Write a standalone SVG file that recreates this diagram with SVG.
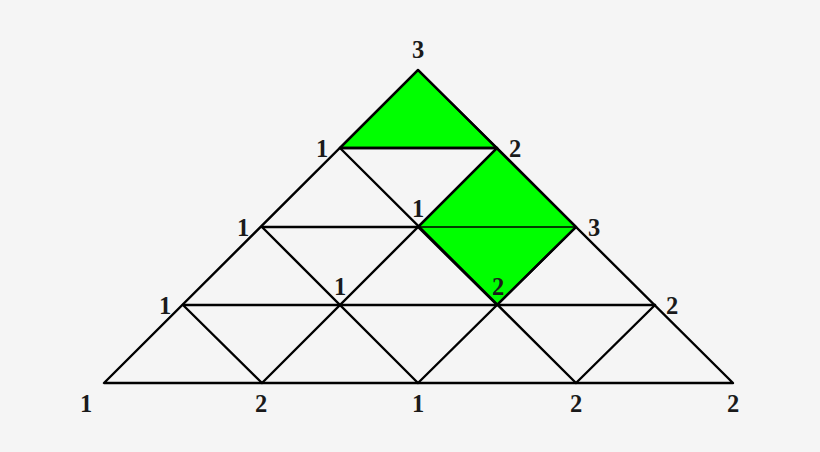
<svg xmlns="http://www.w3.org/2000/svg" width="820" height="452" viewBox="0 0 820 452">
<style>
.ln{stroke:#000;stroke-width:2.4;fill:none;stroke-linecap:round;stroke-linejoin:round}
.fill{fill:#00ff00;stroke:#000;stroke-width:2.4;stroke-linejoin:round}
.lb{font-family:"Liberation Serif","DejaVu Serif",serif;font-weight:bold;font-size:24.5px;text-anchor:middle;fill:#1a1a1a}
</style>
<rect width="820" height="452" fill="#f5f5f5"/>
<g id="shaded">
<polygon class="fill" points="418,70 340,148 497,148"/>
<polygon class="fill" points="497,148 418,227 497,305 576,227"/>
</g>
<g id="connectors">
<polygon class="ln" points="418,70 104,383 733,383"/>
<line class="ln" x1="340" y1="148" x2="497" y2="148"/>
<line class="ln" x1="262" y1="227" x2="418" y2="227"/>
<line x1="418" y1="227" x2="576" y2="227" stroke="#000" stroke-width="1.6"/>
<line class="ln" x1="183" y1="305" x2="655" y2="305"/>
<line class="ln" x1="340" y1="148" x2="576" y2="383"/>
<line class="ln" x1="262" y1="227" x2="418" y2="383"/>
<line class="ln" x1="183" y1="305" x2="262" y2="383"/>
<line class="ln" x1="497" y1="148" x2="262" y2="383"/>
<line class="ln" x1="576" y1="227" x2="418" y2="383"/>
<line class="ln" x1="655" y1="305" x2="576" y2="383"/>
</g>
<g id="labels">
<text class="lb" x="418" y="58">3</text>
<text class="lb" x="322" y="157">1</text>
<text class="lb" x="515" y="157">2</text>
<text class="lb" x="243" y="236">1</text>
<text class="lb" x="418" y="217">1</text>
<text class="lb" x="594" y="236">3</text>
<text class="lb" x="165" y="314">1</text>
<text class="lb" x="340" y="295">1</text>
<text class="lb" x="498" y="295">2</text>
<text class="lb" x="672" y="314">2</text>
<text class="lb" x="86" y="412">1</text>
<text class="lb" x="261" y="412">2</text>
<text class="lb" x="418" y="412">1</text>
<text class="lb" x="576" y="412">2</text>
<text class="lb" x="733" y="412">2</text>
</g>
</svg>
